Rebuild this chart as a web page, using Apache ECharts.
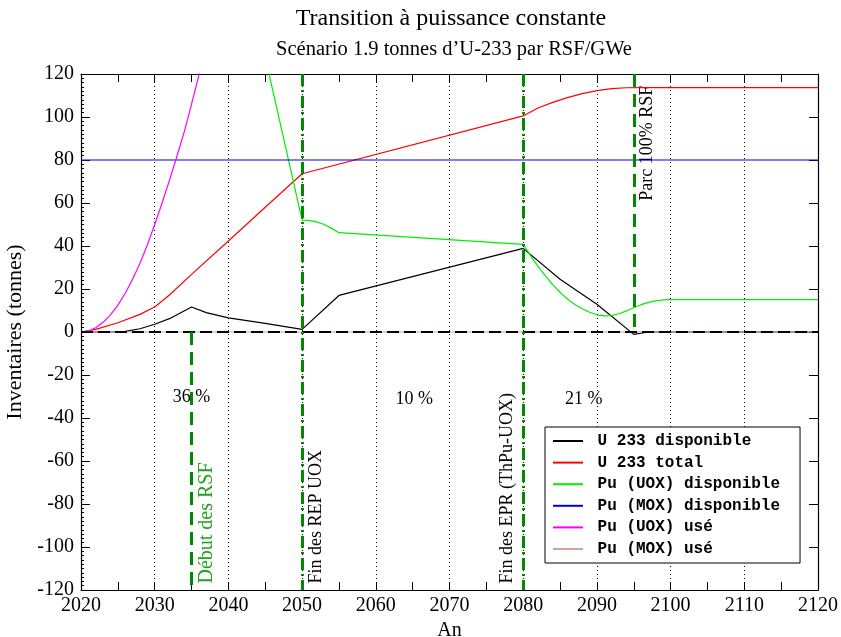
<!DOCTYPE html>
<html>
<head>
<meta charset="utf-8">
<script src="https://cdn.jsdelivr.net/npm/echarts@6/dist/echarts.min.js"></script>
<style>
  html, body { margin: 0; padding: 0; background: #fff; }
  #chart { width: 841px; height: 637px; }
</style>
</head>
<body>
<div id="chart"></div>
<script>
// séries (années, tonnes)
const u233DispYears = [2020, 2024, 2026, 2028, 2030, 2032, 2035, 2037, 2040, 2045, 2050, 2055, 2080, 2085, 2090, 2095, 2097, 2120]
const u233DispValues = [0, 0, 0.3, 1.5, 3.6, 6.2, 11.6, 9, 6.6, 4, 1.2, 17, 38.9, 24.5, 12.9, -1.1, 0, 0]

const u233TotalYears = [2020, 2022, 2025, 2028, 2030, 2032, 2035, 2040, 2045, 2050, 2080, 2082, 2084, 2086, 2088, 2090, 2092, 2094, 2096, 2120]
const u233TotalValues = [0, 1.2, 4.3, 8.2, 11.6, 17.2, 26.8, 42.3, 58, 73.6, 100.5, 104.2, 106.8, 109, 110.9, 112.3, 113.2, 113.6, 113.7, 113.7]

const puUoxDispYears = [2044, 2050, 2051, 2052, 2053, 2054, 2055, 2080, 2081, 2082, 2083, 2084, 2085, 2086, 2087, 2088, 2089, 2090, 2091, 2092, 2093, 2094, 2095, 2096, 2097, 2098, 2099, 2100, 2120]
const puUoxDispValues = [143, 52, 51.8, 51.2, 50, 48.2, 46.2, 40.8, 35.5, 30.5, 26.2, 22, 18.5, 15.3, 12.8, 10.8, 9.2, 8, 7.5, 7.6, 8.5, 9.8, 11.3, 12.7, 13.8, 14.5, 14.9, 15.1, 15.1]

const puMoxDispYears = [2020, 2120]
const puMoxDispValues = [80, 80]

const puUoxUseYears = [2020, 2021, 2022, 2023, 2024, 2025, 2026, 2027, 2028, 2029, 2030, 2031, 2032, 2033, 2034, 2035, 2036, 2037]
const puUoxUseValues = [0, 0.5, 2, 4.5, 8, 12.5, 18, 24.5, 32, 40.5, 50, 60, 70.5, 81.5, 93, 106, 119.5, 133]

const puMoxUseYears = [2020, 2120]
const puMoxUseValues = [0, 0]

const seriesNames = ['U 233 disponible', 'U 233 total', 'Pu (UOX) disponible', 'Pu (MOX) disponible', 'Pu (UOX) usé', 'Pu (MOX) usé']
const seriesColors = ['#000000', '#ff0000', '#00ee00', '#0000dd', '#ff00ff', '#d2a59c']

// repères verticaux
const markerYears = [2035, 2050, 2080, 2095]
const markerFrom = [0, 120, 120, 120]
const markerTo = [-120, -120, -120, 0]
const markerDash = [[13, 7], [12, 4, 2, 4], [12, 4, 2, 4], [13, 7]]

const eventLabels = ['Début des RSF', 'Fin des REP UOX', 'Fin des EPR (ThPu-UOX)', 'Parc 100% RSF']
const eventLabelY = [-117, -117, -117, 61]

const shareLabels = ['36 %', '10 %', '21 %']
const shareYears = [2035, 2065.2, 2088.2]
const shareValues = [-30.5, -31.5, -31.5]

const serif = '"Liberation Serif", "Times New Roman", serif'
const pairs = (xs, ys) => xs.map((x, i) => [x, ys[i]])

const lines = [
  pairs(u233DispYears, u233DispValues),
  pairs(u233TotalYears, u233TotalValues),
  pairs(puUoxDispYears, puUoxDispValues),
  pairs(puMoxDispYears, puMoxDispValues),
  pairs(puUoxUseYears, puUoxUseValues),
  pairs(puMoxUseYears, puMoxUseValues)
]

const chart = echarts.init(document.getElementById('chart'))

const xAxisBase = {
  type: 'value',
  min: 2020,
  max: 2120,
  interval: 10,
  axisLine: { show: true, onZero: false, lineStyle: { color: '#000', width: 1.2 } },
  axisTick: { show: true, inside: true, length: 8, lineStyle: { color: '#000' } },
  minorTick: { show: true, splitNumber: 2, length: 8, lineStyle: { color: '#000' } },
  splitLine: { show: false }
}
const yAxisBase = {
  type: 'value',
  min: -120,
  max: 120,
  interval: 20,
  axisLine: { show: true, onZero: false, lineStyle: { color: '#000', width: 1.2 } },
  axisTick: { show: true, inside: true, length: 9, lineStyle: { color: '#000' } },
  splitLine: { show: false }
}

const markData = markerYears.map((yr, i) => [
  { coord: [yr, markerFrom[i]], lineStyle: { color: '#008a00', width: 3, type: markerDash[i] } },
  { coord: [yr, markerTo[i]] }
])
// axe zéro en tirets
markData.unshift({ yAxis: 0, lineStyle: { color: '#000', width: 2, type: [12, 5] } })

chart.setOption({
  animation: false,
  title: [
    { text: 'Transition à puissance constante', left: 446, top: 2, textAlign: 'center',
      textStyle: { fontFamily: serif, fontWeight: 'normal', fontSize: 24, color: '#000' } },
    { text: 'Scénario 1.9 tonnes d’U-233 par RSF/GWe', left: 449, top: 34, textAlign: 'center',
      textStyle: { fontFamily: serif, fontWeight: 'normal', fontSize: 20.5, color: '#000' } }
  ],
  grid: { left: 81, right: 23, top: 74, bottom: 47, containLabel: false, outerBoundsMode: 'none' },
  legend: {
    data: seriesNames,
    orient: 'vertical',
    left: 545,
    top: 427,
    padding: [6, 20, 6, 8],
    itemGap: 5.6,
    itemWidth: 30,
    itemHeight: 2,
    icon: 'rect',
    backgroundColor: '#fff',
    borderColor: '#000',
    borderWidth: 1,
    borderRadius: 0,
    formatter: n => ' ' + n,
    textStyle: { fontFamily: '"Liberation Mono", monospace', fontWeight: 'bold', fontSize: 16, color: '#000' }
  },
  xAxis: [
    Object.assign({}, xAxisBase, {
      position: 'bottom',
      name: 'An',
      nameLocation: 'middle',
      nameGap: 30,
      nameTextStyle: { fontFamily: serif, fontSize: 20, color: '#000' },
      axisLabel: { fontFamily: serif, fontSize: 20, color: '#000', margin: 6, formatter: v => String(v) },
      splitLine: { show: true, lineStyle: { color: '#000', width: 1, type: [1, 3] } }
    }),
    Object.assign({}, xAxisBase, { position: 'top', axisLabel: { show: false } })
  ],
  yAxis: [
    Object.assign({}, yAxisBase, {
      position: 'left',
      name: 'Inventaires (tonnes)',
      nameLocation: 'middle',
      nameGap: 55,
      nameTextStyle: { fontFamily: serif, fontSize: 22, color: '#000' },
      axisLabel: { fontFamily: serif, fontSize: 20, color: '#000', margin: 7 },
      minorTick: { show: true, splitNumber: 10, length: 3, lineStyle: { color: '#000' } }
    }),
    Object.assign({}, yAxisBase, { position: 'right', axisLabel: { show: false } })
  ],
  series: lines.map((d, i) => {
    const s = {
      name: seriesNames[i],
      type: 'line',
      data: d,
      symbol: 'none',
      showSymbol: false,
      clip: true,
      lineStyle: { color: seriesColors[i], width: 1.2 },
      itemStyle: { color: seriesColors[i] },
      emphasis: { disabled: true }
    }
    if (i === 5) {
      s.markLine = { silent: true, symbol: ['none', 'none'], label: { show: false }, data: markData }
    }
    return s
  })
})

// textes positionnés sur les coordonnées des données
const px = (x, y) => chart.convertToPixel({ xAxisIndex: 0, yAxisIndex: 0 }, [x, y])
const graphics = []
eventLabels.forEach((txt, i) => {
  const p = px(markerYears[i], eventLabelY[i])
  const leftSide = i === 2
  graphics.push({
    type: 'text',
    x: p[0] + (leftSide ? -7 : 5),
    y: p[1],
    rotation: Math.PI / 2,
    silent: true,
    style: {
      text: txt,
      fill: i === 0 ? '#22a022' : '#000',
      font: (i === 0 ? 20 : 18) + 'px ' + serif,
      textAlign: 'left',
      textVerticalAlign: leftSide ? 'bottom' : 'top'
    }
  })
})
shareLabels.forEach((txt, i) => {
  const p = px(shareYears[i], shareValues[i])
  graphics.push({
    type: 'text',
    x: p[0],
    y: p[1],
    silent: true,
    style: { text: txt, fill: '#000', font: '18px ' + serif, textAlign: 'center', textVerticalAlign: 'middle' }
  })
})
chart.setOption({ graphic: graphics })
</script>
</body>
</html>
